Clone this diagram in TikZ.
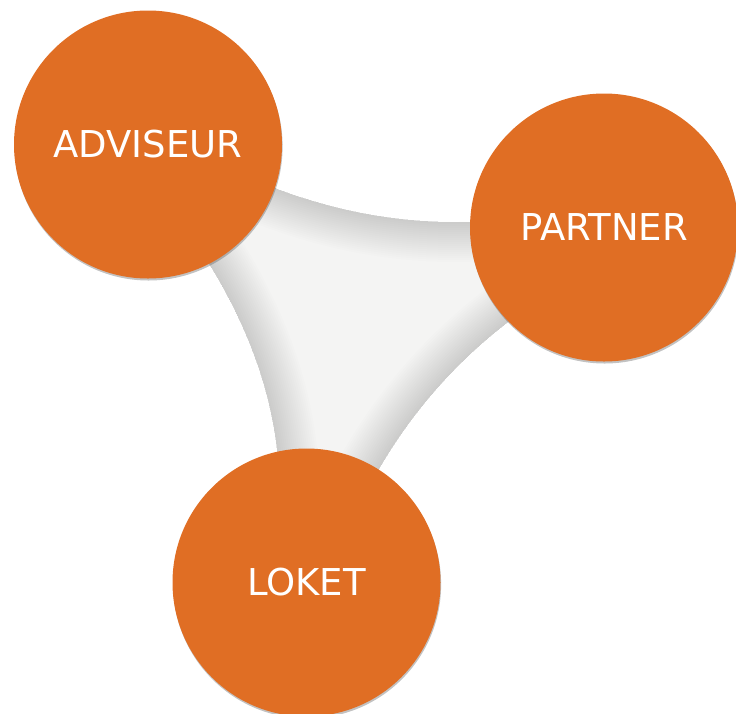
\documentclass[tikz,border=0pt]{standalone}
\usepackage{fontspec}
\setmainfont{DejaVu Sans}
\definecolor{bubbleorange}{HTML}{E06E24}
\definecolor{connlight}{HTML}{F4F4F3}
\begin{document}
\begin{tikzpicture}[x=1pt,y=-1pt,
  bubble/.style={circle, fill=bubbleorange, minimum size=268pt, inner sep=0pt,
    text=white, font=\fontsize{37}{40}\selectfont},
  bubbleshadow/.style={circle, fill=black!60, fill opacity=0.4, minimum size=268pt, inner sep=0pt},
  edgeshade/.style={draw=black, draw opacity=0.008, line join=round}]
\useasboundingbox (0,0) rectangle (736,713);
\def\connpath{(230,169) .. controls (330,216.3) and (430,231.9) .. (530,216)
  -- (559.2,287.7) .. controls (467.5,341.7) and (395.2,423.4) .. (352.8,521)
  -- (277.5,530) .. controls (287.7,430) and (257.4,330) .. (186.7,230) -- cycle}
% connector shape
\fill[connlight] \connpath;
\begin{scope}
  \clip \connpath;
  \foreach \w in {80,76,...,4} {
    \draw[edgeshade, line width=\w pt] \connpath;
  }
\end{scope}
% shadows
\node[bubbleshadow] (advshadow) at (148.6,146.5) {};
\node[bubbleshadow] (parshadow) at (604.6,229.5) {};
\node[bubbleshadow] (lokshadow) at (307.1,584.5) {};
% bubbles
\node[bubble] (adv) at (148,144.5) {ADVISEUR};
\node[bubble] (par) at (604,227.5) {PARTNER};
\node[bubble] (lok) at (306.5,582.5) {LOKET};
\end{tikzpicture}
\end{document}
